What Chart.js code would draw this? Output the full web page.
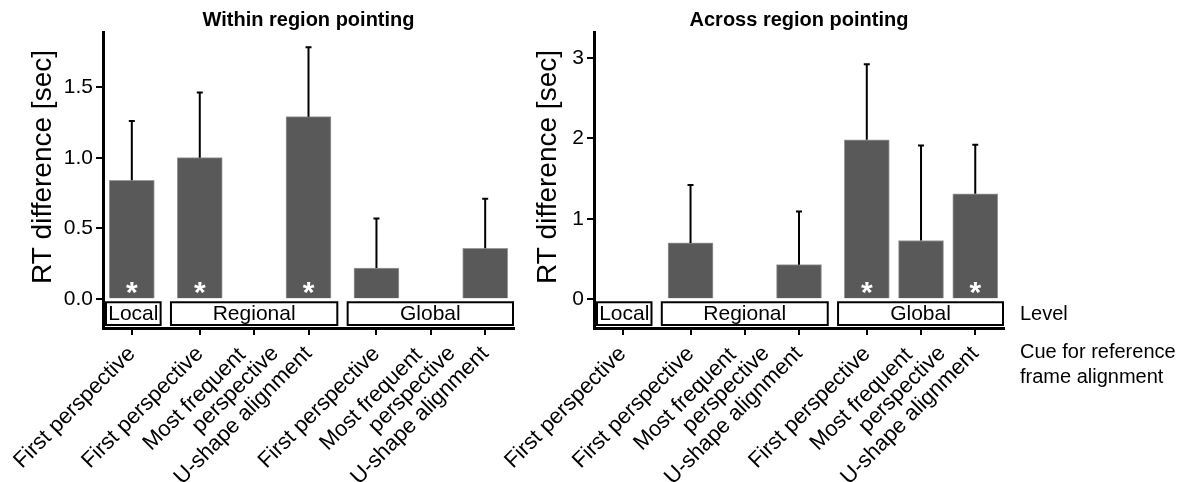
<!DOCTYPE html>
<html>
<head>
<meta charset="utf-8">
<script src="https://cdn.jsdelivr.net/npm/chart.js@4.4.1/dist/chart.umd.min.js"></script>
<style>
  body { margin: 0; background: #fff; }
  #wrap { position: relative; width: 1187px; height: 482px; overflow: hidden; }
  #wrap canvas { position: absolute; top: 0; }
</style>
</head>
<body>
<div id="wrap">
  <canvas id="within" width="560" height="482" style="left:0px"></canvas>
  <canvas id="across" width="687" height="482" style="left:500px"></canvas>
</div>
<script>
// levels and the cues inside each level
const levels = ['Local', 'Regional', 'Global'];
const levelCues = [
  ['First perspective'],
  ['First perspective', ['Most frequent', 'perspective'], 'U-shape alignment'],
  ['First perspective', ['Most frequent', 'perspective'], 'U-shape alignment']
];

// within region pointing
const withinMean = [0.84, 1.00, null, 1.29, 0.22, null, 0.36];
const withinErr  = [0.42, 0.46, null, 0.49, 0.35, null, 0.35];
const withinStar = [true, true, false, true, false, false, false];
const withinTicks = [0, 0.5, 1, 1.5];

// across region pointing
const acrossMean = [null, 0.70, null, 0.43, 1.98, 0.73, 1.31];
const acrossErr  = [null, 0.72, null, 0.66, 0.94, 1.18, 0.61];
const acrossStar = [false, false, false, false, true, false, true];
const acrossTicks = [0, 1, 2, 3];

const FONT = '"Liberation Sans", Arial, sans-serif';
Chart.defaults.font.family = FONT;
Chart.defaults.color = '#000';

// bar positions on the x scale, with a small gap between level groups
const GROUP_GAP = 0.25;
const xPos = [];
const cueLabels = [];
const groups = [];
let p = 0;
levelCues.forEach((cues, g) => {
  const start = p;
  cues.forEach(c => { xPos.push(p); cueLabels.push([].concat(c)); p += 1; });
  groups.push({ label: levels[g], from: start, to: p - 1 });
  p += GROUP_GAP;
});

const overlay = {
  id: 'overlay',
  afterDatasetsDraw(chart, args, o) {
    const { ctx, chartArea: a } = chart;
    const x = chart.scales.x, y = chart.scales.y;
    const zero = y.getPixelForValue(0);
    ctx.save();

    // error bars (upper only)
    ctx.strokeStyle = '#000';
    ctx.lineWidth = 2;
    o.mean.forEach((m, i) => {
      if (m == null) return;
      const px = x.getPixelForValue(xPos[i]);
      const y0 = y.getPixelForValue(m);
      const y1 = y.getPixelForValue(m + o.err[i]);
      ctx.beginPath();
      ctx.moveTo(px, y0);
      ctx.lineTo(px, y1);
      ctx.moveTo(px - 3, y1);
      ctx.lineTo(px + 3, y1);
      ctx.stroke();
    });

    // significance stars
    ctx.fillStyle = '#fff';
    ctx.font = 'bold 30px ' + FONT;
    ctx.textAlign = 'center';
    ctx.textBaseline = 'alphabetic';
    const mt = ctx.measureText('*');
    o.star.forEach((s, i) => {
      if (!s) return;
      const px = x.getPixelForValue(xPos[i]);
      const cy = zero - 11;
      ctx.fillText('*', px, cy + (mt.actualBoundingBoxAscent - mt.actualBoundingBoxDescent) / 2);
    });

    // level boxes
    groups.forEach(g => {
      const l = Math.max(x.getPixelForValue(g.from - 0.53), a.left + 3);
      const r = Math.min(x.getPixelForValue(g.to + 0.53), a.right - 1);
      const t = zero + 3, b = a.bottom - 3;
      ctx.fillStyle = '#fff';
      ctx.fillRect(l, t, r - l, b - t);
      ctx.lineWidth = 2;
      ctx.strokeStyle = '#000';
      ctx.strokeRect(l, t, r - l, b - t);
      ctx.fillStyle = '#000';
      ctx.font = '21px ' + FONT;
      ctx.textBaseline = 'middle';
      ctx.fillText(g.label, (l + r) / 2, (t + b) / 2 + 1);
    });

    // rotated cue labels; a second line sits one line lower and slides along the text
    ctx.fillStyle = '#000';
    ctx.font = '22px ' + FONT;
    ctx.textAlign = 'right';
    ctx.textBaseline = 'middle';
    cueLabels.forEach((lines, i) => {
      const px = x.getPixelForValue(xPos[i]);
      ctx.save();
      ctx.translate(px - 8.5, a.bottom + 14);
      ctx.rotate(-Math.PI / 4);
      if (lines.length === 1) {
        ctx.fillText(lines[0], 0, 12);
      } else {
        lines.forEach((line, j) => ctx.fillText(line, -9.5 + j * 24.7, 4.6 + j * 22));
      }
      ctx.restore();
    });

    // y axis title
    ctx.save();
    ctx.font = '28px ' + FONT;
    ctx.textAlign = 'center';
    ctx.textBaseline = 'middle';
    ctx.translate(o.titleX, 167);
    ctx.rotate(-Math.PI / 2);
    ctx.fillText('RT difference [sec]', 0, 0);
    ctx.restore();

    if (o.side) {
      ctx.font = '20px ' + FONT;
      ctx.textAlign = 'left';
      ctx.textBaseline = 'middle';
      ctx.fillText('Level', a.right + 16, (zero + a.bottom) / 2 + 1);
      ctx.fillText('Cue for reference', a.right + 16, a.bottom + 24);
      ctx.fillText('frame alignment', a.right + 16, a.bottom + 49);
    }
    ctx.restore();
  }
};

function makeChart(id, title, mean, err, star, yTicks, yMin, yMax, decimals, yWidth, titleX, padRight, side) {
  const ctx = document.getElementById(id).getContext('2d');
  return new Chart(ctx, {
    type: 'bar',
    data: {
      datasets: [{
        data: xPos.map((v, i) => ({ x: v, y: mean[i] })),
        backgroundColor: '#595959',
        borderColor: '#9a9a9a',
        borderWidth: 1,
        barThickness: 45
      }]
    },
    options: {
      responsive: false,
      animation: false,
      devicePixelRatio: 1,
      layout: { padding: { left: 0, right: padRight, top: 0, bottom: 0 } },
      scales: {
        x: {
          type: 'linear',
          offset: false,
          min: -0.53,
          max: 7.03,
          afterBuildTicks: s => { s.ticks = xPos.map(v => ({ value: v })); },
          afterFit: s => { s.height = 154; },
          ticks: { display: false, autoSkip: false },
          grid: { display: true, offset: false, drawOnChartArea: false, drawTicks: true, tickLength: 7, color: '#000', lineWidth: 2 },
          border: { display: true, color: '#000', width: 3 }
        },
        y: {
          min: yMin,
          max: yMax,
          afterBuildTicks: s => { s.ticks = yTicks.map(v => ({ value: v })); },
          afterFit: s => { s.width = yWidth; },
          ticks: {
            padding: 3,
            font: { size: 21 },
            callback: v => v.toFixed(decimals)
          },
          grid: { display: true, drawOnChartArea: false, drawTicks: true, tickLength: 7, color: '#000', lineWidth: 2 },
          border: { display: true, color: '#000', width: 3 }
        }
      },
      plugins: {
        legend: { display: false },
        tooltip: { enabled: false },
        title: {
          display: true,
          text: title,
          fullSize: false,
          font: { size: 20, weight: 'bold' },
          padding: { top: 8, bottom: 0 }
        },
        overlay: { mean, err, star, side, titleX }
      }
    },
    plugins: [overlay]
  });
}

makeChart('within', 'Within region pointing', withinMean, withinErr, withinStar,
  withinTicks, -0.203, 1.888, 1, 103, 43, 46, false);
makeChart('across', 'Across region pointing', acrossMean, acrossErr, acrossStar,
  acrossTicks, -0.357, 3.32, 0, 94, 48, 183, true);
</script>
</body>
</html>
